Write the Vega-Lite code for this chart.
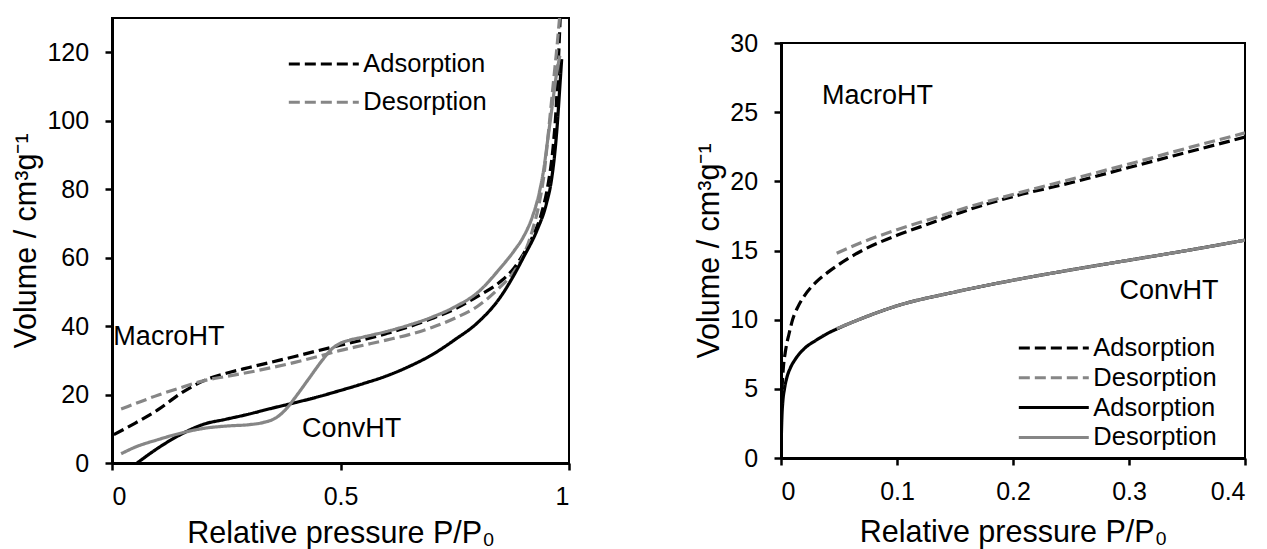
{
  "$schema": "https://vega.github.io/schema/vega-lite/v6.json",
  "background": "white",
  "padding": {"left": 10, "top": 12, "right": 5, "bottom": 0},
  "config": {
    "font": "Liberation Sans",
    "view": {"stroke": "black", "strokeWidth": 2},
    "axis": {
      "domainColor": "black", "domainWidth": 3,
      "tickColor": "black", "tickWidth": 2.5, "tickSize": 7,
      "labelFont": "Liberation Sans", "labelFontSize": 25, "labelColor": "black",
      "titleFont": "Liberation Sans", "titleFontSize": 30.5, "titleFontWeight": "normal", "titleColor": "black",
      "grid": false
    },
    "legend": {
      "labelFont": "Liberation Sans", "labelFontSize": 25.5, "labelColor": "black",
      "symbolType": "M-3,0H3", "symbolSize": 544, "symbolStrokeWidth": 3,
      "padding": 0, "title": null
    }
  },
  "datasets": {
    "left": [
      {"s":"MA","x":0.004,"v":8.3},{"s":"MA","x":0.05,"v":11.6},{"s":"MA","x":0.1,"v":15.5},{"s":"MA","x":0.15,"v":20.3},{"s":"MA","x":0.2,"v":24.0},{"s":"MA","x":0.25,"v":26.2},{"s":"MA","x":0.3,"v":27.9},{"s":"MA","x":0.35,"v":29.5},{"s":"MA","x":0.4,"v":31.1},{"s":"MA","x":0.45,"v":32.8},{"s":"MA","x":0.5,"v":34.4},{"s":"MA","x":0.55,"v":36.0},{"s":"MA","x":0.6,"v":37.8},{"s":"MA","x":0.65,"v":39.8},{"s":"MA","x":0.7,"v":42.2},{"s":"MA","x":0.75,"v":45.0},{"s":"MA","x":0.8,"v":48.7},{"s":"MA","x":0.85,"v":53.0},{"s":"MA","x":0.88,"v":57.0},{"s":"MA","x":0.9,"v":61.0},{"s":"MA","x":0.92,"v":66.0},{"s":"MA","x":0.94,"v":73.0},{"s":"MA","x":0.955,"v":82.0},{"s":"MA","x":0.965,"v":92.0},{"s":"MA","x":0.972,"v":104.0},{"s":"MA","x":0.977,"v":118.0},{"s":"MA","x":0.981,"v":131.0},
      {"s":"MD","x":0.02,"v":15.8},{"s":"MD","x":0.05,"v":17.3},{"s":"MD","x":0.1,"v":19.8},{"s":"MD","x":0.15,"v":22.0},{"s":"MD","x":0.2,"v":24.0},{"s":"MD","x":0.25,"v":25.3},{"s":"MD","x":0.3,"v":26.5},{"s":"MD","x":0.35,"v":27.9},{"s":"MD","x":0.4,"v":29.4},{"s":"MD","x":0.45,"v":31.1},{"s":"MD","x":0.5,"v":32.9},{"s":"MD","x":0.55,"v":34.4},{"s":"MD","x":0.6,"v":35.9},{"s":"MD","x":0.65,"v":37.5},{"s":"MD","x":0.7,"v":39.6},{"s":"MD","x":0.75,"v":42.3},{"s":"MD","x":0.8,"v":45.8},{"s":"MD","x":0.85,"v":51.5},{"s":"MD","x":0.88,"v":56.0},{"s":"MD","x":0.9,"v":60.5},{"s":"MD","x":0.92,"v":68.0},{"s":"MD","x":0.935,"v":76.0},{"s":"MD","x":0.945,"v":84.0},{"s":"MD","x":0.953,"v":94.0},{"s":"MD","x":0.965,"v":110.0},{"s":"MD","x":0.974,"v":122.0},{"s":"MD","x":0.98,"v":131.0},
      {"s":"CA","x":0.055,"v":0.0},{"s":"CA","x":0.1,"v":4.3},{"s":"CA","x":0.15,"v":8.3},{"s":"CA","x":0.2,"v":11.3},{"s":"CA","x":0.25,"v":12.8},{"s":"CA","x":0.3,"v":14.3},{"s":"CA","x":0.35,"v":16.0},{"s":"CA","x":0.4,"v":17.6},{"s":"CA","x":0.45,"v":19.3},{"s":"CA","x":0.5,"v":21.2},{"s":"CA","x":0.55,"v":23.2},{"s":"CA","x":0.6,"v":25.4},{"s":"CA","x":0.65,"v":28.2},{"s":"CA","x":0.7,"v":31.6},{"s":"CA","x":0.75,"v":36.0},{"s":"CA","x":0.8,"v":41.0},{"s":"CA","x":0.85,"v":48.5},{"s":"CA","x":0.88,"v":55.0},{"s":"CA","x":0.9,"v":60.0},{"s":"CA","x":0.93,"v":68.0},{"s":"CA","x":0.95,"v":75.5},{"s":"CA","x":0.962,"v":83.0},{"s":"CA","x":0.97,"v":92.0},{"s":"CA","x":0.975,"v":100.0},{"s":"CA","x":0.98,"v":110.0},{"s":"CA","x":0.984,"v":118.0},
      {"s":"CD","x":0.02,"v":2.7},{"s":"CD","x":0.05,"v":4.6},{"s":"CD","x":0.1,"v":6.8},{"s":"CD","x":0.15,"v":8.7},{"s":"CD","x":0.2,"v":10.1},{"s":"CD","x":0.25,"v":10.8},{"s":"CD","x":0.3,"v":11.2},{"s":"CD","x":0.33,"v":11.8},{"s":"CD","x":0.36,"v":13.3},{"s":"CD","x":0.38,"v":15.6},{"s":"CD","x":0.4,"v":19.0},{"s":"CD","x":0.43,"v":24.5},{"s":"CD","x":0.46,"v":30.0},{"s":"CD","x":0.48,"v":33.2},{"s":"CD","x":0.5,"v":35.0},{"s":"CD","x":0.52,"v":35.9},{"s":"CD","x":0.55,"v":36.8},{"s":"CD","x":0.6,"v":38.4},{"s":"CD","x":0.65,"v":40.3},{"s":"CD","x":0.7,"v":42.6},{"s":"CD","x":0.75,"v":45.6},{"s":"CD","x":0.8,"v":49.8},{"s":"CD","x":0.85,"v":57.0},{"s":"CD","x":0.88,"v":62.0},{"s":"CD","x":0.9,"v":66.0},{"s":"CD","x":0.92,"v":72.0},{"s":"CD","x":0.935,"v":79.0},{"s":"CD","x":0.945,"v":86.0},{"s":"CD","x":0.953,"v":94.0},{"s":"CD","x":0.963,"v":104.0},{"s":"CD","x":0.972,"v":113.0},{"s":"CD","x":0.98,"v":119.0}
    ],
    "right": [
      {"s":"MA","x":0.0008,"v":5.0},{"s":"MA","x":0.002,"v":6.5},{"s":"MA","x":0.004,"v":7.8},{"s":"MA","x":0.007,"v":9.0},{"s":"MA","x":0.01,"v":10.0},{"s":"MA","x":0.015,"v":11.0},{"s":"MA","x":0.02,"v":11.7},{"s":"MA","x":0.03,"v":12.7},{"s":"MA","x":0.04,"v":13.4},{"s":"MA","x":0.05,"v":14.0},{"s":"MA","x":0.07,"v":15.0},{"s":"MA","x":0.1,"v":16.1},{"s":"MA","x":0.13,"v":17.0},{"s":"MA","x":0.16,"v":17.9},{"s":"MA","x":0.2,"v":18.9},{"s":"MA","x":0.25,"v":19.9},{"s":"MA","x":0.3,"v":21.0},{"s":"MA","x":0.35,"v":22.1},{"s":"MA","x":0.4,"v":23.2},
      {"s":"MD","x":0.048,"v":14.8},{"s":"MD","x":0.07,"v":15.6},{"s":"MD","x":0.1,"v":16.5},{"s":"MD","x":0.13,"v":17.3},{"s":"MD","x":0.16,"v":18.1},{"s":"MD","x":0.2,"v":19.05},{"s":"MD","x":0.25,"v":20.15},{"s":"MD","x":0.3,"v":21.25},{"s":"MD","x":0.35,"v":22.4},{"s":"MD","x":0.4,"v":23.5},
      {"s":"CA","x":0.0,"v":0.0},{"s":"CA","x":0.0003,"v":1.5},{"s":"CA","x":0.0008,"v":3.0},{"s":"CA","x":0.0015,"v":4.0},{"s":"CA","x":0.003,"v":5.0},{"s":"CA","x":0.005,"v":5.8},{"s":"CA","x":0.008,"v":6.5},{"s":"CA","x":0.012,"v":7.1},{"s":"CA","x":0.02,"v":7.9},{"s":"CA","x":0.03,"v":8.5},{"s":"CA","x":0.04,"v":9.0},{"s":"CA","x":0.05,"v":9.4},{"s":"CA","x":0.07,"v":10.1},{"s":"CA","x":0.1,"v":11.0},{"s":"CA","x":0.15,"v":12.0},{"s":"CA","x":0.2,"v":12.85},{"s":"CA","x":0.25,"v":13.6},{"s":"CA","x":0.3,"v":14.3},{"s":"CA","x":0.35,"v":15.0},{"s":"CA","x":0.4,"v":15.75},
      {"s":"CD","x":0.048,"v":9.35},{"s":"CD","x":0.07,"v":10.1},{"s":"CD","x":0.1,"v":11.0},{"s":"CD","x":0.15,"v":12.0},{"s":"CD","x":0.2,"v":12.85},{"s":"CD","x":0.25,"v":13.6},{"s":"CD","x":0.3,"v":14.3},{"s":"CD","x":0.35,"v":15.0},{"s":"CD","x":0.4,"v":15.75}
    ],
    "labLeft": [
      {"x":0.003,"v":34.4,"label":"MacroHT"},
      {"x":0.416,"v":7.6,"label":"ConvHT"}
    ],
    "labRight": [
      {"x":0.0353,"v":25.57,"label":"MacroHT"},
      {"x":0.2918,"v":11.47,"label":"ConvHT"}
    ],
    "blank": [{"t": ""}]
  },
  "spacing": 121,
  "resolve": {
    "scale": {"x": "independent", "y": "independent", "color": "independent", "strokeDash": "independent"},
    "legend": {"color": "independent", "strokeDash": "independent"}
  },
  "hconcat": [
    {
      "width": 457,
      "height": 445,
      "layer": [
        {
          "data": {"name": "left"},
          "mark": {"type": "line", "strokeWidth": 3.2, "interpolate": "monotone", "clip": true},
          "encoding": {
            "x": {"field": "x", "type": "quantitative", "scale": {"domain": [0, 1], "nice": false},
                  "axis": {"values": [0, 0.5, 1], "format": "~g", "title": "Relative pressure P/P₀", "labelPadding": 14.5, "titlePadding": 9}},
            "y": {"field": "v", "type": "quantitative", "scale": {"domain": [0, 130], "nice": false},
                  "axis": {"values": [0, 20, 40, 60, 80, 100, 120], "title": "Volume / cm³g⁻¹", "labelPadding": 16.4, "titlePadding": 5}},
            "color": {"field": "s", "type": "nominal",
                      "scale": {"domain": ["MA", "MD", "CA", "CD"], "range": ["#000000", "#868686", "#000000", "#868686"]},
                      "legend": {"values": ["MA", "MD"], "orient": "none", "legendX": 198.3, "legendY": 32.5, "labelOffset": 26, "rowPadding": 11.2,
                                 "labelExpr": "substring(datum.label,1,2) == 'A' ? 'Adsorption' : 'Desorption'"}},
            "strokeDash": {"field": "s", "type": "nominal",
                      "scale": {"domain": ["MA", "MD", "CA", "CD"], "range": [[11, 5], [11, 5], [1, 0], [1, 0]]},
                      "legend": {"values": ["MA", "MD"], "orient": "none", "legendX": 198.3, "legendY": 32.5, "labelOffset": 26, "rowPadding": 11.2,
                                 "labelExpr": "substring(datum.label,1,2) == 'A' ? 'Adsorption' : 'Desorption'"}}
          }
        },
        {
          "data": {"name": "labLeft"},
          "mark": {"type": "text", "align": "left", "baseline": "alphabetic", "fontSize": 27, "font": "Liberation Sans", "color": "black"},
          "encoding": {
            "x": {"field": "x", "type": "quantitative"},
            "y": {"field": "v", "type": "quantitative"},
            "text": {"field": "label"}
          }
        }
      ]
    },
    {
      "spacing": 6,
      "resolve": {
        "scale": {"color": "independent", "strokeDash": "independent"},
        "legend": {"color": "independent", "strokeDash": "independent"}
      },
      "vconcat": [
        {
          "width": 464,
          "height": 1,
          "view": {"stroke": null},
          "data": {"name": "blank"},
          "mark": {"type": "text"},
          "encoding": {"text": {"field": "t"}}
        },
        {
          "width": 464,
          "height": 415,
          "layer": [
            {
              "data": {"name": "right"},
              "mark": {"type": "line", "strokeWidth": 3.2, "interpolate": "monotone", "clip": true},
              "encoding": {
                "x": {"field": "x", "type": "quantitative", "scale": {"domain": [0, 0.4], "nice": false},
                      "axis": {"values": [0, 0.1, 0.2, 0.3, 0.4], "format": "~g", "title": "Relative pressure P/P₀", "labelPadding": 14.5, "titlePadding": 13}},
                "y": {"field": "v", "type": "quantitative", "scale": {"domain": [0, 30], "nice": false},
                      "axis": {"values": [0, 5, 10, 15, 20, 25, 30], "title": "Volume / cm³g⁻¹", "labelPadding": 16.4, "titlePadding": 5}},
                "color": {"field": "s", "type": "nominal",
                          "scale": {"domain": ["MA", "MD", "CA", "CD"], "range": ["#000000", "#868686", "#000000", "#868686"]},
                          "legend": {"orient": "none", "legendX": 259.3, "legendY": 291.5, "labelOffset": 26, "rowPadding": 2.8,
                                     "labelExpr": "substring(datum.label,1,2) == 'A' ? 'Adsorption' : 'Desorption'"}},
                "strokeDash": {"field": "s", "type": "nominal",
                          "scale": {"domain": ["MA", "MD", "CA", "CD"], "range": [[11, 5], [11, 5], [1, 0], [1, 0]]},
                          "legend": {"orient": "none", "legendX": 259.3, "legendY": 291.5, "labelOffset": 26, "rowPadding": 2.8,
                                     "labelExpr": "substring(datum.label,1,2) == 'A' ? 'Adsorption' : 'Desorption'"}}
              }
            },
            {
              "data": {"name": "labRight"},
              "mark": {"type": "text", "align": "left", "baseline": "alphabetic", "fontSize": 27, "font": "Liberation Sans", "color": "black"},
              "encoding": {
                "x": {"field": "x", "type": "quantitative"},
                "y": {"field": "v", "type": "quantitative"},
                "text": {"field": "label"}
              }
            }
          ]
        }
      ]
    }
  ]
}
